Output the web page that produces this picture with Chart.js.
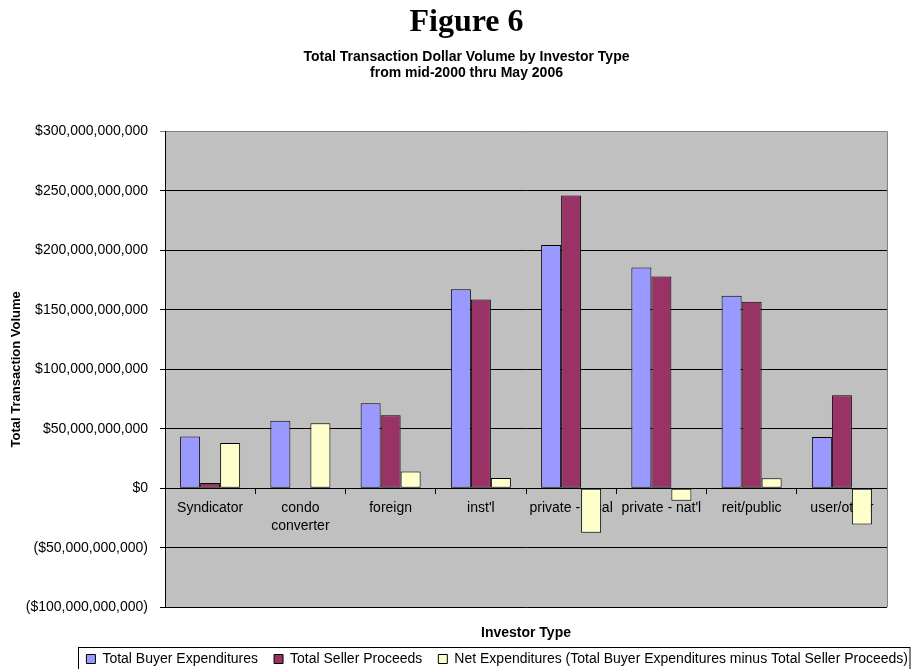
<!DOCTYPE html>
<html>
<head>
<meta charset="utf-8">
<script src="https://cdn.jsdelivr.net/npm/chart.js@4/dist/chart.umd.min.js"></script>
<style>
  html, body { margin: 0; padding: 0; background: #ffffff; }
  canvas { display: block; }
</style>
</head>
<body>
<canvas id="c" width="911" height="669"></canvas>
<script>
// ---- data (US dollars) ----
const categories = [
  'Syndicator', ['condo', 'converter'], 'foreign', "inst'l",
  'private - local', "private - nat'l", 'reit/public', 'user/other'
];
const buyerExpenditures = [43.6e9, 56.7e9, 71.5e9, 167.3e9, 204.5e9, 185.5e9, 161.8e9, 43.0e9];
const sellerProceeds    = [4.5e9, 0, 61.4e9, 158.7e9, 246.1e9, 178.0e9, 156.7e9, 78.2e9];
const netExpenditures   = [38.0e9, 54.7e9, 14.0e9, 8.6e9, -37.5e9, -10.6e9, 8.4e9, -30.4e9];
const seriesNames = [
  'Total Buyer Expenditures',
  'Total Seller Proceeds',
  'Net Expenditures (Total Buyer Expenditures minus Total Seller Proceeds)'
];
const yMin = -100e9, yMax = 300e9, yStep = 50e9;

const SANS = "'Liberation Sans', Arial, sans-serif";
const SERIF = "'Liberation Serif', 'Times New Roman', serif";

function money(v) {
  const s = '$' + Math.abs(v).toLocaleString('en-US');
  return v < 0 ? '(' + s + ')' : s;
}

const plotBg = {
  id: 'plotBg',
  beforeDraw(chart) {
    const {ctx, chartArea: a} = chart;
    ctx.save();
    ctx.fillStyle = '#C0C0C0';
    ctx.fillRect(a.left, a.top, a.right - a.left, a.bottom - a.top);
    ctx.restore();
  },
  afterDraw(chart) {
    const {ctx, chartArea: a} = chart;
    ctx.save();
    ctx.strokeStyle = '#808080';
    ctx.lineWidth = 1;
    ctx.beginPath();
    ctx.moveTo(Math.round(a.right) + 0.5, a.top);
    ctx.lineTo(Math.round(a.right) + 0.5, a.bottom);
    ctx.stroke();
    // legend frame
    const lg = chart.legend;
    if (lg && lg.legendHitBoxes && lg.legendHitBoxes.length) {
      const hb = lg.legendHitBoxes;
      const left = Math.round(hb[0].left) - 7.5;
      const cy = hb[0].top + hb[0].height / 2;
      const top = Math.round(cy - 12) + 0.5;
      ctx.strokeStyle = '#000000';
      ctx.strokeRect(left, top, 910 - left, 24);
    }
    ctx.restore();
  }
};

new Chart(document.getElementById('c'), {
  type: 'bar',
  data: {
    labels: categories,
    datasets: [
      { label: seriesNames[0], data: buyerExpenditures, backgroundColor: '#9999FF' },
      { label: seriesNames[1], data: sellerProceeds, backgroundColor: '#993366' },
      { label: seriesNames[2], data: netExpenditures, backgroundColor: '#FFFFCC' }
    ].map(d => Object.assign(d, {
      borderColor: '#000000', borderWidth: 1, borderSkipped: false,
      categoryPercentage: 0.665, barPercentage: 1.0
    }))
  },
  options: {
    responsive: false,
    animation: false,
    devicePixelRatio: 1,
    layout: { padding: { left: 9, right: -13, top: 0, bottom: -7 } },
    plugins: {
      title: {
        display: true,
        text: 'Figure 6',
        color: '#000',
        font: { family: SERIF, size: 32, weight: 'bold', lineHeight: 1.2 },
        padding: { top: 4, bottom: 0 }
      },
      subtitle: {
        display: true,
        text: ['Total Transaction Dollar Volume by Investor Type', 'from mid-2000 thru May 2006'],
        color: '#000',
        font: { family: SANS, size: 14, weight: 'bold', lineHeight: 1.143 },
        padding: { top: 7, bottom: 50 }
      },
      legend: {
        display: true,
        position: 'bottom',
        align: 'end',
        labels: {
          color: '#000',
          font: { family: SANS, size: 14 },
          boxWidth: 9, boxHeight: 9,
          padding: 16
        }
      },
      tooltip: { enabled: false }
    },
    scales: {
      x: {
        type: 'category',
        position: { y: 0 },
        grid: {
          display: true, drawOnChartArea: false, offset: true,
          drawTicks: true, tickLength: 5, color: '#000'
        },
        border: { display: true, color: '#000', width: 1 },
        ticks: {
          color: '#000', font: { family: SANS, size: 14, lineHeight: 1.3 },
          padding: 6, maxRotation: 0, autoSkip: false
        }
      },
      x2: {
        type: 'category',
        position: 'bottom',
        grid: { display: false, drawTicks: false },
        border: { display: false },
        ticks: { display: false },
        title: {
          display: true, text: 'Investor Type', color: '#000',
          font: { family: SANS, size: 14, weight: 'bold', lineHeight: 1.2 },
          padding: { top: 18, bottom: -6 }
        }
      },
      y: {
        type: 'linear',
        position: 'left',
        min: yMin, max: yMax,
        afterFit(s) { s.width = 156; },
        grid: {
          color: (c) => (c.tick && c.tick.value === yMax) ? '#808080' : '#000',
          lineWidth: 1, drawTicks: true, tickLength: 5
        },
        border: { display: true, color: '#000', width: 1 },
        ticks: {
          stepSize: yStep, color: '#000',
          font: { family: SANS, size: 14 },
          padding: 12,
          callback: (v) => money(v)
        },
        title: {
          display: true, text: 'Total Transaction Volume', color: '#000',
          font: { family: SANS, size: 13, weight: 'bold', lineHeight: 1.2 },
          padding: { top: 0, bottom: 0 }
        }
      },
      y2: {
        type: 'linear',
        position: 'right',
        afterFit(s) { s.width = 37; },
        grid: { display: false, drawTicks: false },
        border: { display: false },
        ticks: { display: false }
      }
    }
  },
  plugins: [plotBg]
});
</script>
</body>
</html>
